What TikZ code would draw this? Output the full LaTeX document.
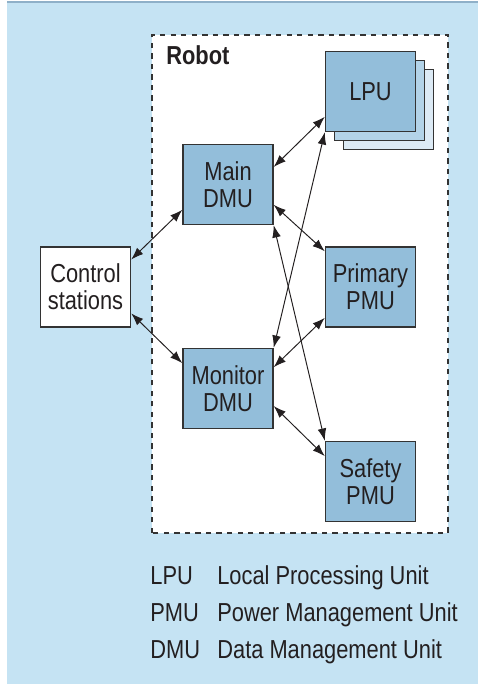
\documentclass[tikz,border=0pt]{standalone}
\usepackage{fontspec}
\setmainfont[FakeStretch=0.84]{Liberation Sans}
\usepackage{xcolor}
\usetikzlibrary{arrows.meta, positioning}
\definecolor{ink}{HTML}{231F20}
\definecolor{edge}{HTML}{333333}
\definecolor{cpanel}{HTML}{C5E3F3}
\definecolor{crule}{HTML}{8FB0C8}
\definecolor{cunit}{HTML}{93BEDA}
\definecolor{cunit2}{HTML}{B3D3E8}
\definecolor{cunit3}{HTML}{DCEAF5}

\begin{document}
\begin{tikzpicture}[font=\fontsize{14.8}{15.4}\selectfont,
    unit/.style={draw=edge, line width=0.8pt, fill=cunit, text=ink, align=center,
      minimum width=1.8cm, minimum height=1.6cm, inner sep=0pt},
    link/.style={{Latex[length=7pt,width=5pt]}-{Latex[length=7pt,width=5pt]},
      line width=0.55pt, draw=ink}]
    \useasboundingbox (0,0) rectangle (9.56,13.68);
    % panel
    \fill[cpanel] (0.14,0) rectangle (9.56,13.64);
    \draw[crule, line width=1pt] (0.14,13.64) -- (9.56,13.64);
    % robot frame
    \fill[white] (3.04,3.02) rectangle (8.96,12.98);
    \draw[edge, dashed, line width=0.8pt] (3.04,3.02) rectangle (8.96,12.98);
    \node[font=\fontsize{14.8}{15.4}\selectfont\bfseries, text=ink, anchor=base west, inner sep=0pt]
      (robot) at (3.32,12.38) {Robot};
    % stacked LPUs
    \node[unit, fill=cunit3] (lpu3) at (7.77,11.49) {};
    \node[unit, fill=cunit2] (lpu2) at (7.59,11.67) {};
    \node[unit] (lpu) at (7.41,11.85) {LPU};
    \node[unit] (main) at (4.56,9.99) {Main\\DMU};
    \node[unit] (monitor) at (4.56,5.91) {Monitor\\DMU};
    \node[unit] (primary) at (7.41,7.94) {Primary\\PMU};
    \node[unit] (safety) at (7.41,4.05) {Safety\\PMU};
    \node[unit, fill=white] (control) at (1.71,7.94) {Control\\stations};
    % links
    \foreach \a/\b in {control.31/main.209, control.-30/monitor.151,
        main.21/lpu.209, monitor.north east/lpu.south west,
        main.-24/primary.142, main.south east/safety.north west,
        monitor.25/primary.214, monitor.-21/safety.151}{
      \draw[link] (\a) -- (\b);
    }
    % legend
    \foreach \ab/\txt/\y in {LPU/Local Processing Unit/1.98,
        PMU/Power Management Unit/1.25, DMU/Data Management Unit/0.52}{
      \node[anchor=base west, inner sep=0pt, text=ink] (ab-\ab) at (3.0,\y) {\ab};
      \node[anchor=base west, inner sep=0pt, text=ink] (txt-\ab) at (4.34,\y) {\txt};
    }
\end{tikzpicture}
\end{document}
